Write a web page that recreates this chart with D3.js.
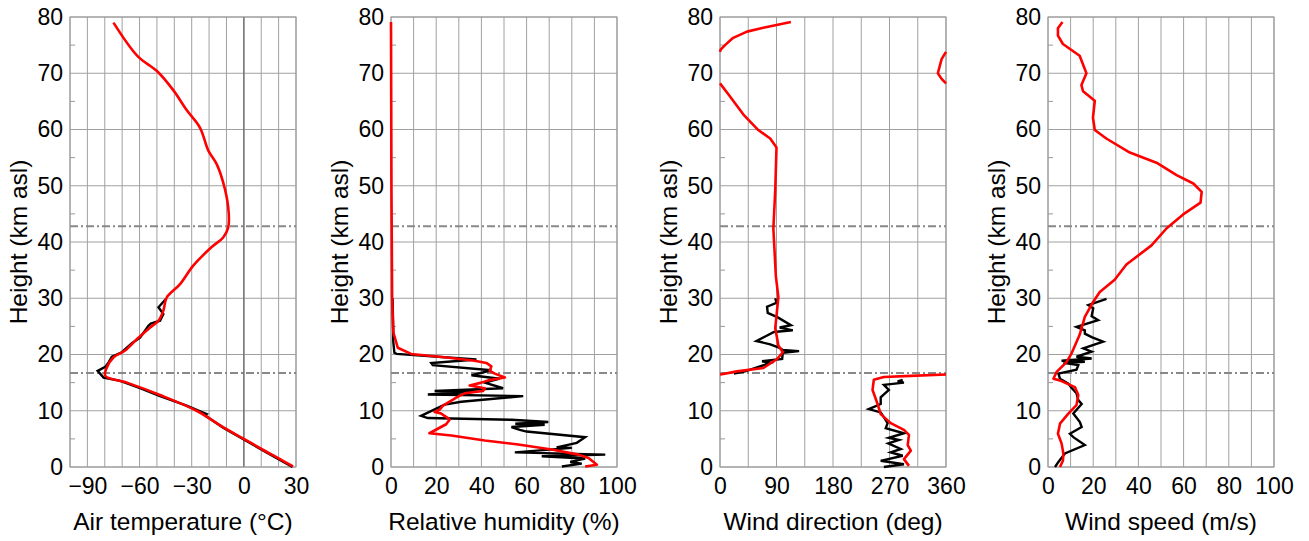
<!DOCTYPE html>
<html>
<head>
<meta charset="utf-8">
<script src="https://cdn.jsdelivr.net/npm/d3@7"></script>
<style>
  body { margin: 0; background: #fff; }
  text { font-family: "Liberation Sans", Arial, sans-serif; fill: #000; }
</style>
</head>
<body>
<svg id="chart" width="1309" height="541"></svg>
<script>
// height ticks (km asl) shared by all panels
const heightTicks = [0, 10, 20, 30, 40, 50, 60, 70, 80]
// tropopause / stratopause reference heights
const refHeights = [16.7, 42.8]

// [value, height] pairs, black = sounding, red = model
const tempObs = [[28,0],[21,1.2],[13,2.6],[-1.3,5.1],[-11.9,7.0],[-22.4,9.2],[-21.5,9.4],[-32.9,10.9],[-48.2,12.6],
  [-59.7,14.0],[-71.1,15.3],[-80.7,15.9],[-84.1,17.1],[-79.7,17.8],[-77.8,18.6],[-75.9,19.6],[-70.2,20.4],
  [-64.4,22.0],[-59.7,23.0],[-54.9,25.1],[-53.5,25.5],[-48.2,26.0],[-46.3,27.2],[-49.1,28.4],[-44.7,29.9]]
const tempMod = [[28.3,0.1],[20.8,1.4],[12.5,2.8],[0,5],[-12,7.1],[-27.2,10.0],[-48.2,12.8],[-67.3,15],[-79.7,16.2],
  [-78.8,17.7],[-74.9,19.5],[-68.3,20.7],[-61.6,22.7],[-53.9,24.8],[-49.1,26],[-46.3,27.8],[-44.4,30.1],
  [-36.7,32.5],[-29.1,35.8],[-18.5,39.1],[-11.9,40.8],[-9,42.6],[-9,46.2],[-11.9,50.6],[-15.7,53.9],
  [-20.5,56.3],[-25.2,60.3],[-33,63.5],[-40.6,67],[-50,70.4],[-61,73],[-75,79]]

const rhObs = [[0.7,30],[1,24],[1,22.3],[1.5,20.3],[2.5,20.1],[37.8,19.1],[17.8,18.5],[18.5,18.1],[44.4,17.2],
  [35.6,16.3],[48.1,15.7],[41.5,15.0],[49.6,14.0],[19.3,13.5],[38.5,13.4],[16.3,12.9],[58.5,12.6],[31.1,11.6],
  [23.7,11.1],[13.3,9.1],[16.3,8.7],[53.3,8.4],[69.6,8.0],[55,7.7],[68,7.5],[53.3,7.1],[57,6.6],[60,6.3],
  [85.9,5.3],[82.2,4.3],[73.3,3.5],[80,3.4],[54.8,2.6],[94.8,2.2],[66.7,1.9],[85.9,1.5],[79.3,0.9],
  [84.4,0.6],[75.6,0.1]]
const rhMod = [[0,79.1],[0.2,50],[0.5,30],[1,24],[3,21.2],[8.9,20.1],[23.7,19.5],[37,18.9],[42.2,18.5],[44.4,17.9],
  [43.7,17.1],[45.9,16.6],[50.4,15.9],[43,15.4],[40,15.0],[34.8,14.5],[41.5,14.0],[40.7,13.5],[32.6,13.1],
  [29.6,12.5],[26.7,11.8],[23,10.9],[21.5,10.2],[19.3,9.8],[22.2,9.5],[25.2,8.7],[25.9,8.4],[24.4,7.6],
  [20.7,6.8],[17,6.0],[26.7,5.6],[41.5,4.7],[56.3,4.0],[71.1,3.1],[83,2.2],[87.4,1.6],[91.1,0.4],[85.9,0.1]]

const dirObs = [[88,30.0],[90,29.2],[75,28.5],[76,27.4],[92,26.6],[113,25.2],[95,24.8],[116,24.3],[86,24.0],
  [72,23.2],[58,22.4],[80,21.8],[95,21.2],[100,20.8],[126,20.6],[100,20.3],[99,19.2],[67,18.8],[80,18.5],
  [53,17.5],[40,17.0],[22,16.6],
  [291,15.5],[283,15.2],[293,15.0],[261,14.6],[269,13.7],[262,13.0],[256,12.4],[256,11.2],[237,10.3],
  [256,9.7],[262,8.7],[267,7.8],[264,6.9],[293,6.0],[269,5.2],[285,4.8],[268,4.2],[288,3.2],[272,2.6],
  [291,2.0],[256,1.1],[293,0.5],[261,0]]
const dirMod = [[113,79.1],[69,78.1],[43,77.4],[21,76.3],[8,75.0],[1,74.2],[0,73.8],[360,73.8],[353,72.5],
  [347,70.0],[353,69.0],[360,68.2],[0,68.2],[13,66.3],[37,62.7],[61,59.9],[80,58.4],[90,56.8],[88,49.2],
  [85,42.4],[89,33.9],[93,30.2],[88,24.7],[93,21.6],[100,20.4],[91,19.2],[69,17.6],[27,17.0],[3,16.5],
  [0,16.45],[360,16.45],[304,16.2],[261,16.0],[245,15.5],[243,13.7],[251,11.2],[256,9.4],[272,7.8],
  [293,6.6],[301,5.7],[299,3.9],[304,2.9],[293,1.4],[301,0.2]]

const spdObs = [[25.9,29.9],[17.8,28.8],[20,28.2],[19.3,26.8],[22.2,26.1],[12.6,24.9],[16.3,24.3],[16.3,23.7],
  [19.3,23.1],[24.4,22.3],[15.6,21.1],[19.3,20.5],[12.6,19.6],[19.3,19.3],[6,18.9],[16.3,18.7],[6.8,18.5],
  [13.4,18.1],[12.6,17.3],[4.6,16.6],[5.3,15.7],[9,14.8],[10.4,14.1],[12.6,13.1],[13.4,11.9],[14.9,11.2],
  [11.2,9.5],[14.1,8.0],[14.9,7.1],[9.7,5.9],[11.2,5.3],[16.3,3.9],[7.5,2.4],[4.6,0.9],[3.1,0]]
const spdMod = [[6.4,79.1],[4.4,78.0],[4.4,76.7],[6.6,75.2],[14,73.1],[17,70.0],[14.8,67.9],[15.5,66.8],
  [20.7,65.1],[19.9,62.1],[20.7,59.9],[25.8,58.4],[36.2,55.9],[48,54.1],[56.9,51.9],[64.3,50.4],[68,48.9],
  [67.5,47],[59.8,44.9],[52.4,42.4],[45.8,39.4],[34.7,36],[29.5,33.3],[22.9,31.1],[19.9,29.3],[16.3,26.7],
  [14,23.5],[10.3,20.1],[8.1,18.6],[3.8,16.9],[2.4,15.7],[5.2,15.4],[11.9,14.2],[13.4,12.8],[12.6,11],
  [9,9.5],[5.3,7.7],[4.4,5.9],[6,4.2],[6.8,2.4],[6.6,1.1],[5.3,0]]

const tempTicks = [-90, -60, -30, 0, 30]
const rhTicks = [0, 20, 40, 60, 80, 100]
const dirTicks = [0, 90, 180, 270, 360]
const spdTicks = [0, 20, 40, 60, 80, 100]

const panels = [
  { left: 70, domain: [-100, 30], step: 10, ticks: tempTicks, obs: tempObs, mod: tempMod, title: "Air temperature (°C)", zeroLine: true, smooth: true },
  { left: 391, domain: [0, 100], step: 10, ticks: rhTicks, obs: rhObs, mod: rhMod, title: "Relative humidity (%)" },
  { left: 720, domain: [0, 360], step: 45, ticks: dirTicks, obs: dirObs, mod: dirMod, title: "Wind direction (deg)", wrap: true },
  { left: 1048, domain: [0, 100], step: 10, ticks: spdTicks, obs: spdObs, mod: spdMod, title: "Wind speed (m/s)" }
]

const plotTop = 17, plotBottom = 467, plotWidth = 226
const svg = d3.select("#chart")

const y = d3.scaleLinear().domain([0, 80]).range([plotBottom, plotTop])

// break wind direction lines where they wrap round 0/360
function splitWrap(pts) {
  const segs = [[pts[0]]]
  for (let i = 1; i < pts.length; i++) {
    if (Math.abs(pts[i][0] - pts[i - 1][0]) > 180) segs.push([])
    segs[segs.length - 1].push(pts[i])
  }
  return segs
}

panels.forEach(p => {
  const x = d3.scaleLinear().domain(p.domain).range([p.left, p.left + plotWidth])
  const g = svg.append("g")

  // grid
  const xs = d3.range(p.domain[0], p.domain[1] + 0.001, p.step)
  g.selectAll(".vg").data(xs).join("line")
    .attr("x1", d => x(d)).attr("x2", d => x(d))
    .attr("y1", plotTop).attr("y2", plotBottom)
    .attr("stroke", "#a0a0a0").attr("stroke-width", 1)
  g.selectAll(".hg").data(heightTicks).join("line")
    .attr("x1", p.left).attr("x2", p.left + plotWidth)
    .attr("y1", d => y(d)).attr("y2", d => y(d))
    .attr("stroke", "#a0a0a0").attr("stroke-width", 1)
  // minor ticks on the left edge
  g.selectAll(".mt").data(d3.range(5, 80, 10)).join("line")
    .attr("x1", p.left).attr("x2", p.left + 5)
    .attr("y1", d => y(d)).attr("y2", d => y(d))
    .attr("stroke", "#999").attr("stroke-width", 1)

  if (p.zeroLine) {
    g.append("line")
      .attr("x1", x(0)).attr("x2", x(0)).attr("y1", plotTop).attr("y2", plotBottom)
      .attr("stroke", "#777").attr("stroke-width", 1.5)
  }

  g.append("rect")
    .attr("x", p.left).attr("y", plotTop).attr("width", plotWidth).attr("height", plotBottom - plotTop)
    .attr("fill", "none").attr("stroke", "#999").attr("stroke-width", 1)

  // reference heights
  g.selectAll(".ref").data(refHeights).join("line")
    .attr("x1", p.left).attr("x2", p.left + plotWidth)
    .attr("y1", d => y(d)).attr("y2", d => y(d))
    .attr("stroke", "#888").attr("stroke-width", 2)
    .attr("stroke-dasharray", "8,3,2,3")

  const line = d3.line().x(d => x(d[0])).y(d => y(d[1]))
  const redLine = d3.line().x(d => x(d[0])).y(d => y(d[1]))
    .curve(p.smooth ? d3.curveCatmullRom : d3.curveLinear)
  const obsSegs = p.wrap ? splitWrap(p.obs) : [p.obs]
  const modSegs = p.wrap ? splitWrap(p.mod) : [p.mod]

  obsSegs.forEach(s => {
    g.append("path").attr("d", line(s))
      .attr("fill", "none").attr("stroke", "#000").attr("stroke-width", 2.4)
      .attr("stroke-linejoin", "miter")
  })
  modSegs.forEach(s => {
    g.append("path").attr("d", redLine(s))
      .attr("fill", "none").attr("stroke", "#ff0000").attr("stroke-width", 2.6)
      .attr("stroke-linejoin", "round")
  })

  // axes
  const ax = g.append("g").attr("transform", `translate(0,${plotBottom})`)
    .call(d3.axisBottom(x).tickValues(p.ticks).tickSize(0).tickPadding(11))
  ax.select(".domain").remove()
  ax.selectAll("text").style("font-size", "23px")

  const ay = g.append("g").attr("transform", `translate(${p.left},0)`)
    .call(d3.axisLeft(y).tickValues(heightTicks).tickSize(0).tickPadding(7))
  ay.select(".domain").remove()
  ay.selectAll("text").style("font-size", "23px")

  g.append("text")
    .attr("x", p.left + plotWidth / 2).attr("y", 530)
    .attr("text-anchor", "middle").style("font-size", "24.5px")
    .text(p.title)

  g.append("text")
    .attr("transform", `translate(${p.left - 43},${(plotTop + plotBottom) / 2}) rotate(-90)`)
    .attr("text-anchor", "middle").style("font-size", "24.5px")
    .text("Height (km asl)")
})
</script>
</body>
</html>
